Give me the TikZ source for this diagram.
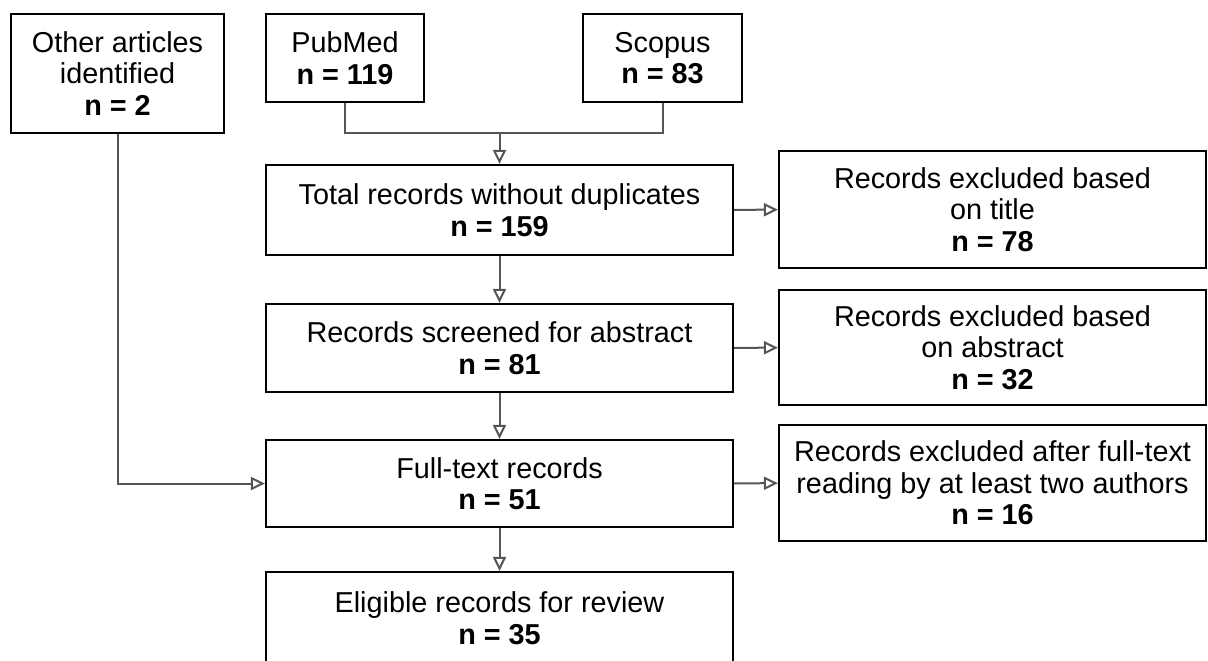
\documentclass[tikz,border=0pt]{standalone}
\usepackage{fontspec}
\setmainfont{Liberation Sans}
\usetikzlibrary{arrows.meta}

\definecolor{linegray}{HTML}{555555}

\tikzset{
  box/.style={draw=black, line width=1.1pt, align=center, inner sep=0pt,
    font=\fontsize{14.4}{15.8}\selectfont},
  flow/.style={draw=linegray, line width=1pt},
  arr/.style={flow, -{Triangle[open, length=7pt, width=6.5pt, line width=1pt]}}
}

\begin{document}
\begin{tikzpicture}[x=0.5pt, y=-0.5pt]
\useasboundingbox (0,0) rectangle (1208,660);

% Sources
\node[box, minimum width=106.5pt, minimum height=59.5pt] (other) at (117.5, 73.5)
  {Other articles\\identified\\\textbf{n = 2}};
\node[box, minimum width=79pt, minimum height=44pt] (pubmed) at (345, 58)
  {PubMed\\\textbf{n = 119}};
\node[box, minimum width=79.5pt, minimum height=44pt] (scopus) at (662.5, 58)
  {Scopus\\\textbf{n = 83}};

% Main column
\node[box, minimum width=233.5pt, minimum height=45pt] (total) at (499.5, 210)
  {Total records without duplicates\\\textbf{n = 159}};
\node[box, minimum width=233.5pt, minimum height=44pt] (screened) at (499.5, 348)
  {Records screened for abstract\\\textbf{n = 81}};
\node[box, minimum width=233.5pt, minimum height=43.5pt] (fulltext) at (499.5, 483.5)
  {Full-text records\\\textbf{n = 51}};
\node[box, minimum width=233.5pt, minimum height=46pt] (eligible) at (499.5, 618)
  {Eligible records for review\\\textbf{n = 35}};

% Exclusions
\node[box, minimum width=213.5pt, minimum height=58.5pt] (extitle) at (992.5, 209.5)
  {Records excluded based\\on title\\\textbf{n = 78}};
\node[box, minimum width=213.5pt, minimum height=57.5pt] (exabstract) at (992.5, 347.5)
  {Records excluded based\\on abstract\\\textbf{n = 32}};
\node[box, minimum width=213.5pt, minimum height=58pt] (exfull) at (992.5, 483)
  {Records excluded after full-text\\reading by at least two authors\\\textbf{n = 16}};

% Merge of the databases
\coordinate (merge) at (499.5, 133);
\draw[flow] (pubmed.south) |- (merge) -| (scopus.south);
\draw[arr] (merge) -- (total.north);

% Downward arrows
\draw[arr] (total) -- (screened);
\draw[arr] (screened) -- (fulltext);
\draw[arr] (fulltext) -- (eligible);

% Exclusion arrows
\draw[arr] (total) -- (extitle);
\draw[arr] (screened) -- (exabstract);
\draw[arr] (fulltext) -- (exfull);

% Other articles
\draw[arr] (other.south) |- (fulltext.west);

\end{tikzpicture}
\end{document}
